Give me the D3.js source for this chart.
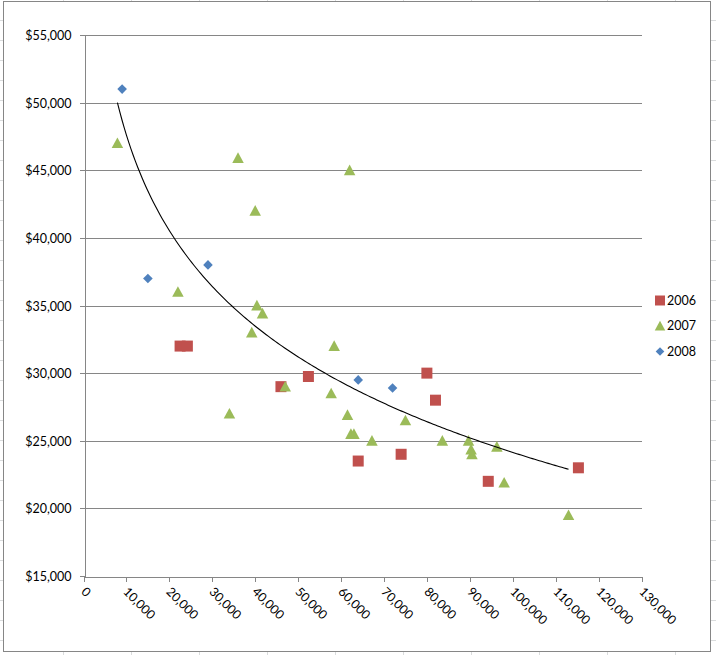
<!DOCTYPE html>
<html><head><meta charset="utf-8">
<script src="https://cdn.jsdelivr.net/npm/d3@7/dist/d3.min.js"></script>
<style>
body{margin:0;background:#fff}
svg{display:block}
text{font-family:Lato,"Open Sans",sans-serif;fill:#000}
</style>
</head><body>
<svg id="chart" width="716" height="655"></svg>
<script>
// ---- data ----
const xTickValues = [0,10000,20000,30000,40000,50000,60000,70000,80000,90000,100000,110000,120000,130000];
const yTickValues = [15000,20000,25000,30000,35000,40000,45000,50000,55000];
const seriesNames = ["2006","2007","2008"];
const seriesColors = ["#C0504D","#9BBB59","#4F81BD"];

const x2006 = [22500,24200,46000,52400,64000,74000,80000,82000,94300,115300];
const y2006 = [32000,32000,29000,29750,23500,24000,30000,28000,22000,23000];

const x2007 = [7900,36000,62000,40000,22000,40400,41700,39200,58400,47000,57700,34000,61500,62300,63000,67200,75000,83600,89700,90300,90500,96300,98000,113000];
const y2007 = [47000,45900,45000,42000,36000,35000,34400,33000,32000,29000,28500,27000,26900,25500,25500,25000,26500,25000,25000,24350,24000,24550,21900,19500];

const x2008 = [9000,15000,29000,64000,72000];
const y2008 = [51000,37000,38000,29500,28900];

// ---- layout ----
const svg = d3.select("#chart");
const W = 716, H = 655;
const plot = {left:83.5, right:641.5, top:35, bottom:576};

const x = d3.scaleLinear().domain([0,130000]).range([plot.left, plot.right]);
const y = d3.scaleLinear().domain([15000,55000]).range([plot.bottom, plot.top]);

// spreadsheet background grid
const bg = svg.append("g").attr("shape-rendering","crispEdges");
d3.range(63, W, 68).forEach(v => bg.append("line").attr("x1",v+0.5).attr("x2",v+0.5).attr("y1",0).attr("y2",H).attr("stroke","#dadcdd"));
d3.range(20, H, 20).forEach(v => bg.append("line").attr("x1",0).attr("x2",W).attr("y1",v+0.5).attr("y2",v+0.5).attr("stroke","#dadcdd"));

// chart area
svg.append("rect").attr("x",3.5).attr("y",1.5).attr("width",707).attr("height",650)
  .attr("fill","#fff").attr("stroke","#868686").attr("shape-rendering","crispEdges");

// gridlines
const grid = svg.append("g").attr("shape-rendering","crispEdges");
grid.selectAll("line").data(yTickValues.filter(v => v !== 15000)).join("line")
  .attr("x1",plot.left).attr("x2",plot.right)
  .attr("y1",d => Math.round(y(d))+0.5).attr("y2",d => Math.round(y(d))+0.5)
  .attr("stroke","#868686");

// y axis
const yAxis = svg.append("g")
  .attr("transform",`translate(${Math.round(plot.left)+0.5},0)`)
  .call(d3.axisLeft(y).tickValues(yTickValues).tickSize(5).tickPadding(8).tickFormat(d3.format("$,")))
  .attr("shape-rendering","crispEdges");
yAxis.select(".domain").attr("stroke","#868686");
yAxis.selectAll(".tick line").attr("stroke","#868686");
yAxis.selectAll(".tick").attr("transform", d => `translate(0,${Math.round(y(d))+0.5})`);
yAxis.selectAll("text").attr("font-family",null).style("font-size","12.5px").attr("fill","#000");

// x axis
const xAxis = svg.append("g")
  .attr("transform",`translate(0,${Math.round(plot.bottom)+0.5})`)
  .call(d3.axisBottom(x).tickValues(xTickValues).tickSize(5).tickFormat(d3.format(",")))
  .attr("shape-rendering","crispEdges");
xAxis.select(".domain").attr("stroke","#868686");
xAxis.selectAll(".tick line").attr("stroke","#868686");
xAxis.selectAll(".tick").attr("transform", d => `translate(${Math.round(x(d))+0.5},0)`);
xAxis.selectAll("text")
  .attr("font-family",null).style("font-size","12.5px").attr("fill","#000")
  .attr("text-anchor","start").attr("x",0).attr("y",0).attr("dy","0.35em")
  .attr("transform","translate(-1,13) rotate(45)");

// markers
const squareSym = {draw(ctx,size){const h=Math.sqrt(size)/2; ctx.rect(-h,-h,2*h,2*h);}};
const triSym = {draw(ctx,size){const w=Math.sqrt(size)/2; ctx.moveTo(0,-w); ctx.lineTo(w,w*0.85); ctx.lineTo(-w,w*0.85); ctx.closePath();}};
const diaSym = {draw(ctx,size){const r=Math.sqrt(size)/2; ctx.moveTo(0,-r); ctx.lineTo(r,0); ctx.lineTo(0,r); ctx.lineTo(-r,0); ctx.closePath();}};
const symTypes = [squareSym, triSym, diaSym];
const symSizes = [11*11, 11.5*11.5, 9.6*9.6];

const series = [
  {name:seriesNames[0], xs:x2006, ys:y2006},
  {name:seriesNames[1], xs:x2007, ys:y2007},
  {name:seriesNames[2], xs:x2008, ys:y2008}
];

const marks = svg.append("g");
series.forEach((s,i) => {
  const pts = s.xs.map((v,j) => [v, s.ys[j]]);
  marks.append("g").selectAll("path").data(pts).join("path")
    .attr("d", d3.symbol().type(symTypes[i]).size(symSizes[i]))
    .attr("transform", d => `translate(${x(d[0])},${y(d[1])})`)
    .attr("fill", seriesColors[i]);
});

// logarithmic trendline (least squares, on 2007 series)
const lx = x2007.map(Math.log);
const mx = d3.mean(lx), my = d3.mean(y2007);
const b = d3.sum(lx.map((v,i) => (v-mx)*(y2007[i]-my))) / d3.sum(lx.map(v => (v-mx)*(v-mx)));
const a = my - b*mx;
const [xmin, xmax] = d3.extent(x2007);
const trendX = d3.range(0, 201).map(i => xmin + (xmax-xmin)*i/200);
svg.append("path")
  .datum(trendX)
  .attr("d", d3.line().x(d => x(d)).y(d => y(a + b*Math.log(d))))
  .attr("fill","none").attr("stroke","#000").attr("stroke-width",1.1);

// legend
const legY = [300.5, 326, 351.5];
const leg = svg.append("g");
series.forEach((s,i) => {
  const sz = [10*10, 10.5*10.5, 8.6*8.6][i];
  leg.append("path").attr("d", d3.symbol().type(symTypes[i]).size(sz))
    .attr("transform",`translate(660,${legY[i]})`).attr("fill",seriesColors[i]);
  leg.append("text").attr("x",667).attr("y",legY[i]).attr("dy","0.35em")
    .style("font-size","12.5px").text(s.name);
});
</script>
</body></html>
